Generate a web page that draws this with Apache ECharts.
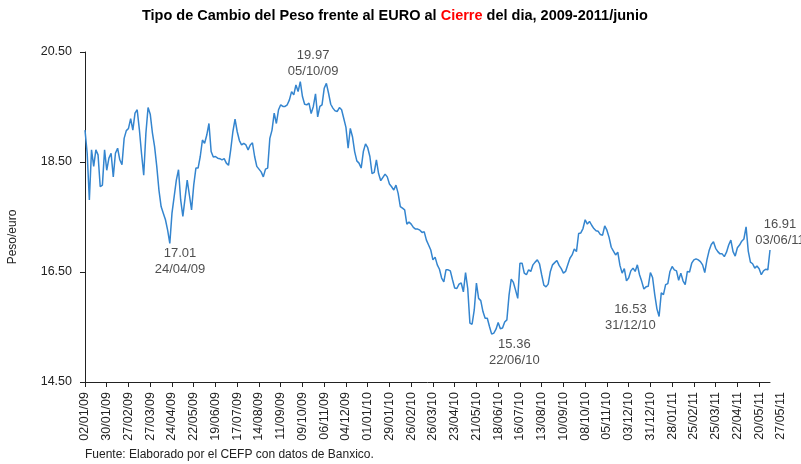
<!DOCTYPE html>
<html>
<head>
<meta charset="utf-8">
<title>Tipo de Cambio del Peso frente al EURO</title>
<script src="https://cdn.jsdelivr.net/npm/echarts@6/dist/echarts.min.js"></script>
<style>
  body { margin: 0; background: #fff; }
  #main { width: 801px; height: 464px; }
</style>
</head>
<body>
<div id="main"></div>
<script>
// tipo de cambio peso/euro al cierre, un dato cada 2 dias habiles
var tc2009 = [
  19.08, 18.66, 17.81, 18.72, 18.42, 18.72, 18.63, 18.05, 18.08, 18.72,
  18.35, 18.57, 18.66, 18.23, 18.66, 18.75, 18.54, 18.45, 18.93, 19.07,
  19.11, 19.29, 19.08, 19.39, 19.45, 19.09, 18.65, 18.26, 19.02, 19.49,
  19.37, 19.03, 18.78, 18.42, 17.99, 17.69, 17.57, 17.45, 17.26, 17.02,
  17.57, 17.87, 18.17, 18.36, 17.81, 17.51, 17.84, 18.17, 17.90, 17.63,
  18.08, 18.39, 18.39, 18.60, 18.90, 18.84, 18.99, 19.20, 18.69, 18.59,
  18.60, 18.57, 18.56, 18.54, 18.56, 18.48, 18.44, 18.72, 19.05, 19.28,
  19.05, 18.89, 18.81, 18.84, 18.81, 18.72, 18.81, 18.85, 18.60, 18.42,
  18.37, 18.32, 18.23, 18.37, 18.39, 18.93, 19.08, 19.39, 19.20, 19.45,
  19.54, 19.51, 19.51, 19.54, 19.63, 19.78, 19.72, 19.90, 19.78, 19.96,
  19.69, 19.55, 19.54, 19.57, 19.38, 19.51, 19.74, 19.32, 19.51, 19.54,
  19.84, 19.93, 19.75, 19.55, 19.48, 19.43, 19.42, 19.49, 19.45, 19.29,
  19.13, 18.75, 19.11, 18.96, 18.69, 18.52, 18.48, 18.39, 18.69, 18.83,
  18.76
];
var tc2010 = [
  18.60, 18.29, 18.31, 18.54, 18.29, 18.16, 18.22, 18.28, 18.23,
  18.10, 18.05, 17.99, 18.08, 17.93, 17.69, 17.66, 17.63, 17.37, 17.41,
  17.37, 17.31, 17.28, 17.28, 17.26, 17.22, 17.23, 17.08, 16.99, 16.90,
  16.72, 16.77, 16.63, 16.55, 16.39, 16.32, 16.54, 16.54, 16.52, 16.36,
  16.21, 16.20, 16.28, 16.30, 16.14, 16.49, 16.20, 15.57, 15.55, 15.81,
  16.30, 16.02, 15.98, 15.78, 15.66, 15.66, 15.51, 15.37, 15.39, 15.46,
  15.58, 15.47, 15.48, 15.59, 15.63, 16.08, 16.37, 16.31, 16.17, 16.02,
  16.66, 16.66, 16.48, 16.45, 16.54, 16.51, 16.63, 16.68, 16.72, 16.65,
  16.45, 16.26, 16.23, 16.28, 16.51, 16.63, 16.67, 16.71, 16.62, 16.56,
  16.48, 16.51, 16.63, 16.75, 16.81, 16.92, 16.87, 17.20, 17.21, 17.29,
  17.45, 17.37, 17.42, 17.35, 17.29, 17.25, 17.24, 17.18, 17.17, 17.34,
  17.26, 17.13, 16.95, 16.88, 16.81, 16.86, 16.62, 16.48, 16.56, 16.34,
  16.39, 16.52, 16.57, 16.51, 16.63, 16.45, 16.33, 16.19, 16.23, 16.24,
  16.49
];
var tc2011 = [
  16.40, 16.09, 15.83, 15.69, 16.12, 16.09, 16.27, 16.29, 16.51,
  16.60, 16.54, 16.52, 16.35, 16.48, 16.34, 16.27, 16.51, 16.50, 16.66,
  16.72, 16.74, 16.72, 16.69, 16.63, 16.49, 16.72, 16.89, 17.00, 17.05,
  16.93, 16.87, 16.83, 16.83, 16.78, 16.86, 16.99, 17.08, 16.87, 16.79,
  16.94, 16.99, 17.06, 17.10, 17.32, 16.88, 16.68, 16.65, 16.57, 16.61,
  16.56, 16.45, 16.52, 16.55, 16.54, 16.90
];
var tipoCambio = tc2009.concat(tc2010, tc2011);

var yTicks = [14.5, 16.5, 18.5, 20.5];

// notas escritas sobre la grafica
var notaFechas = ['05/10/09', '31/12/09', '24/04/09', '22/06/10', '31/12/10', '03/06/11'];
var notaValores = [19.97, 18.81, 17.01, 15.36, 16.53, 16.91];

// etiqueta suelta al final del eje (asi viene en la grafica original)
var etiquetaExtra = '27/05/11';

function dosDigitos(n) {
  return (n < 10 ? '0' : '') + n;
}
function fmtFecha(d) {
  return dosDigitos(d.getDate()) + '/' + dosDigitos(d.getMonth() + 1) + '/' + dosDigitos(d.getFullYear() % 100);
}

// dias habiles desde el 02/01/09, uno de cada dos
var fechas = [];
var d = new Date(2009, 0, 2);
var n = 0;
while (fechas.length < tipoCambio.length) {
  var dow = d.getDay();
  if (dow != 0 && dow != 6) {
    if (n % 2 == 0) fechas.push(fmtFecha(d));
    n++;
  }
  d.setDate(d.getDate() + 1);
}

var fuente = "'Liberation Sans', Arial, sans-serif";
var offsets = [[15, -18], [24, -25], [8, 17], [14, 18], [-20, 47], [10, -17]];

var notas = notaFechas.map(function (f, i) {
  return { value: [f, notaValores[i]], label: { offset: offsets[i] } };
});

var myChart = echarts.init(document.getElementById('main'));
var option = {
  animation: false,
  backgroundColor: '#fff',
  title: [{
    left: 142,
    top: 8,
    padding: 0,
    text: '{a|Tipo de Cambio del Peso frente al EURO al }{r|Cierre}{a| del dia, 2009-2011/junio}',
    textStyle: {
      rich: {
        a: { fontFamily: fuente, fontSize: 14.5, fontWeight: 'bold', color: '#000' },
        r: { fontFamily: fuente, fontSize: 14.5, fontWeight: 'bold', color: '#ff0000' }
      }
    }
  }, {
    left: 85,
    top: 449,
    padding: 0,
    text: 'Fuente: Elaborado por el CEFP con datos de Banxico.',
    textStyle: { fontFamily: fuente, fontSize: 12, fontWeight: 'normal', color: '#222' }
  }],
  grid: {
    left: 85,
    right: 31,
    top: 52,
    bottom: 82,
    containLabel: false,
    outerBoundsMode: 'none'
  },
  xAxis: {
    type: 'category',
    data: fechas,
    boundaryGap: false,
    axisLine: { lineStyle: { color: '#222', width: 1 } },
    axisTick: { show: true, interval: 9, length: 5, lineStyle: { color: '#222' } },
    axisLabel: {
      interval: 9,
      rotate: 90,
      margin: 10,
      fontFamily: fuente,
      fontSize: 12.5,
      color: '#222'
    },
    splitLine: { show: false }
  },
  yAxis: {
    type: 'value',
    min: 14.5,
    max: 20.5,
    interval: 0.5,
    name: 'Peso/euro',
    nameLocation: 'middle',
    nameRotate: 90,
    nameGap: 66,
    nameTextStyle: { fontFamily: fuente, fontSize: 12, color: '#222', padding: [0, 40, 0, 0] },
    axisLine: { show: true, lineStyle: { color: '#222', width: 1 } },
    axisTick: { show: true, length: 5, customValues: yTicks, lineStyle: { color: '#222' } },
    axisLabel: {
      customValues: yTicks,
      margin: 13,
      fontFamily: fuente,
      fontSize: 12.5,
      color: '#222',
      formatter: function (v) { return v.toFixed(2); }
    },
    splitLine: { show: false }
  },
  series: [{
    name: 'Peso/euro',
    type: 'line',
    data: tipoCambio,
    showSymbol: false,
    symbol: 'none',
    lineStyle: { color: '#3485cf', width: 1.5 },
    z: 3
  }, {
    name: 'notas',
    type: 'scatter',
    data: notas,
    symbolSize: 0,
    silent: true,
    label: {
      show: true,
      position: 'inside',
      fontFamily: fuente,
      fontSize: 13,
      lineHeight: 16,
      color: '#222',
      formatter: function (p) {
        return p.value[1].toFixed(2) + '\n' + p.value[0];
      }
    }
  }]
};
myChart.setOption(option);

// la etiqueta extra va un intervalo despues de la ultima
var ult = fechas.length - 1 - ((fechas.length - 1) % 10);
var p1 = myChart.convertToPixel({ xAxisIndex: 0 }, fechas[ult]);
var p0 = myChart.convertToPixel({ xAxisIndex: 0 }, fechas[ult - 10]);
var base = myChart.convertToPixel({ yAxisIndex: 0 }, 14.5);
myChart.setOption({
  graphic: [{
    type: 'text',
    x: p1 + (p1 - p0),
    y: base + 10,
    rotation: Math.PI / 2,
    style: {
      text: etiquetaExtra,
      font: '12.5px ' + fuente,
      fill: '#222',
      align: 'right',
      verticalAlign: 'middle'
    }
  }]
});
</script>
</body>
</html>
